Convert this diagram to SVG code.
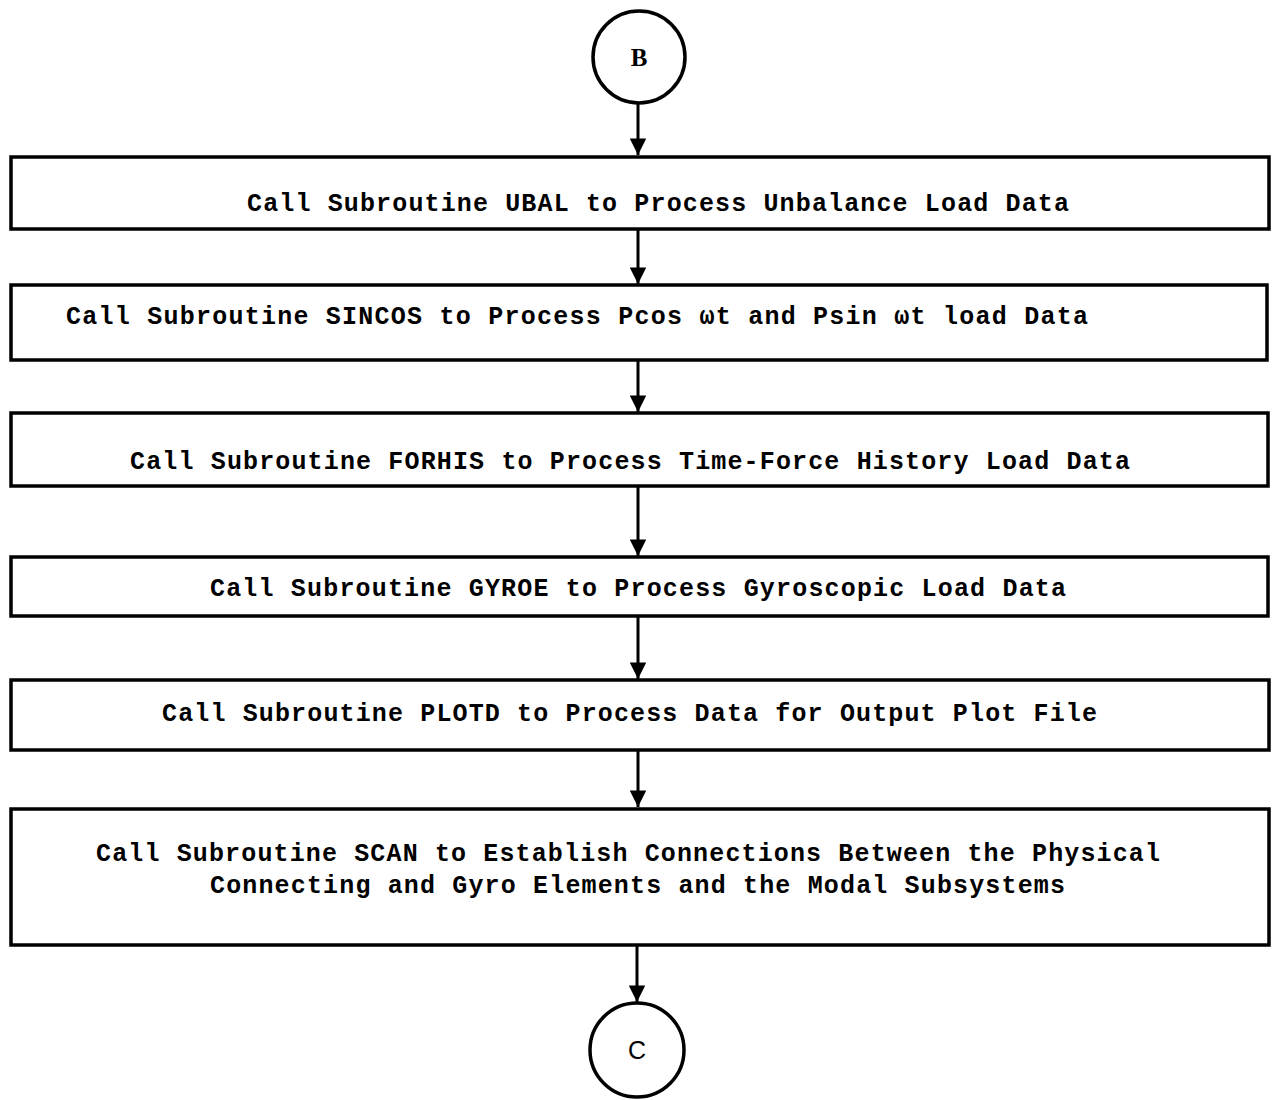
<svg xmlns="http://www.w3.org/2000/svg" width="1277" height="1100" viewBox="0 0 1277 1100">
<style>
.box{fill:none;stroke:#000;stroke-width:3.5}
.circ{fill:none;stroke:#000;stroke-width:3.5}
.t{font-family:"Liberation Mono","DejaVu Sans Mono",monospace;font-weight:bold;font-size:25px;fill:#000}
.c{font-family:"Liberation Serif",serif;font-weight:bold;font-size:25px;fill:#000;text-anchor:middle}
.line{stroke:#000;stroke-width:3;fill:none}
</style>
<defs>
<marker id="ah" viewBox="0 0 10 10" refX="10" refY="5" markerWidth="6" markerHeight="5.5" markerUnits="strokeWidth" orient="auto">
<path d="M0,0 L10,5 L0,10 z" fill="#000"/>
</marker>
</defs>
<rect width="1277" height="1100" fill="#fff"/>
<g id="connectors">
<path class="line" d="M638,104 V155" marker-end="url(#ah)"/>
<path class="line" d="M638,230 V284" marker-end="url(#ah)"/>
<path class="line" d="M638,360 V412" marker-end="url(#ah)"/>
<path class="line" d="M638,487 V556" marker-end="url(#ah)"/>
<path class="line" d="M638,617 V679" marker-end="url(#ah)"/>
<path class="line" d="M638,751 V807" marker-end="url(#ah)"/>
<path class="line" d="M637,946 V1002" marker-end="url(#ah)"/>
</g>
<g id="nodeB">
<circle class="circ" cx="639" cy="57" r="46"/>
<text class="c" x="639" y="66">B</text>
</g>
<g id="ubal">
<rect class="box" x="11" y="157" width="1258" height="72"/>
<text class="t" x="247" y="211" textLength="822" lengthAdjust="spacing">Call Subroutine UBAL to Process Unbalance Load Data</text>
</g>
<g id="sincos">
<rect class="box" x="11" y="285" width="1256" height="75"/>
<text class="t" x="66" y="324" textLength="1022" lengthAdjust="spacing">Call Subroutine SINCOS to Process Pcos ωt and Psin ωt load Data</text>
</g>
<g id="forhis">
<rect class="box" x="11" y="413" width="1257" height="73"/>
<text class="t" x="130" y="469" textLength="1000" lengthAdjust="spacing">Call Subroutine FORHIS to Process Time-Force History Load Data</text>
</g>
<g id="gyroe">
<rect class="box" x="11" y="557" width="1257" height="59"/>
<text class="t" x="210" y="596" textLength="856" lengthAdjust="spacing">Call Subroutine GYROE to Process Gyroscopic Load Data</text>
</g>
<g id="plotd">
<rect class="box" x="11" y="680" width="1258" height="70"/>
<text class="t" x="162" y="721" textLength="935" lengthAdjust="spacing">Call Subroutine PLOTD to Process Data for Output Plot File</text>
</g>
<g id="scan">
<rect class="box" x="11" y="809" width="1258" height="136"/>
<text class="t" x="96" y="861" textLength="1064" lengthAdjust="spacing">Call Subroutine SCAN to Establish Connections Between the Physical</text>
<text class="t" x="210" y="893" textLength="855" lengthAdjust="spacing">Connecting and Gyro Elements and the Modal Subsystems</text>
</g>
<g id="nodeC">
<circle class="circ" cx="637" cy="1050" r="47"/>
<text class="c" x="637" y="1059" style="font-family:'Liberation Sans',sans-serif;font-weight:normal">C</text>
</g>
</svg>
